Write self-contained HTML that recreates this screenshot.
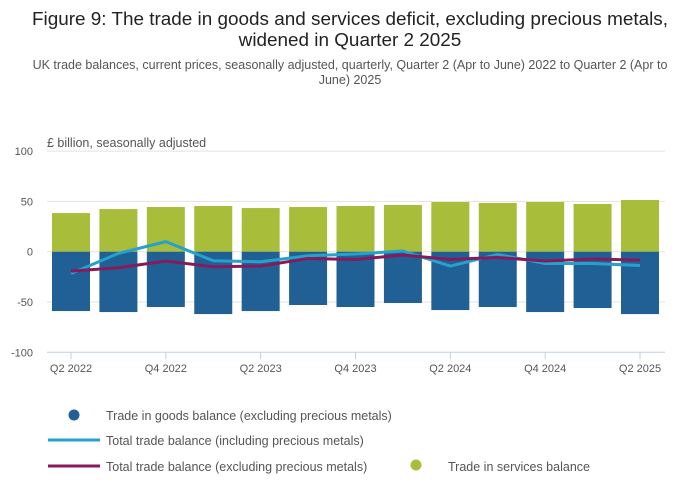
<!DOCTYPE html>
<html><head><meta charset="utf-8"><style>
body{margin:0;background:#fff;font-family:"Liberation Sans",sans-serif;}
#wrap{position:relative;width:700px;height:502px;overflow:hidden;}
</style></head><body>
<div id="wrap">
<svg id="svg" width="700" height="502" xmlns="http://www.w3.org/2000/svg">
<text x="350" y="25" text-anchor="middle" font-size="18.9" fill="#222">Figure 9: The trade in goods and services deficit, excluding precious metals,</text>
<text x="350" y="46" text-anchor="middle" font-size="18.9" fill="#222">widened in Quarter 2 2025</text>
<text x="350" y="69" text-anchor="middle" font-size="12.5" fill="#555">UK trade balances, current prices, seasonally adjusted, quarterly, Quarter 2 (Apr to June) 2022 to Quarter 2 (Apr to</text>
<text x="350" y="84" text-anchor="middle" font-size="12.5" fill="#555">June) 2025</text>
<text x="47" y="147" font-size="12.5" fill="#555">£ billion, seasonally adjusted</text>
<g id="grid"></g><g id="bars"></g><g id="lines"></g><g id="axes"></g>
<g>
<circle cx="74" cy="415" r="5.5" fill="#206095"/>
<text x="106" y="420" font-size="12.5" fill="#555">Trade in goods balance (excluding precious metals)</text>
<line x1="48" y1="440" x2="100" y2="440" stroke="#27a0cc" stroke-width="3"/>
<text x="106" y="445" font-size="12.5" fill="#555">Total trade balance (including precious metals)</text>
<line x1="48" y1="466" x2="100" y2="466" stroke="#871a5b" stroke-width="3"/>
<text x="106" y="471" font-size="12.5" fill="#555">Total trade balance (excluding precious metals)</text>
<circle cx="416" cy="465" r="5.5" fill="#a8bd3a"/>
<text x="448" y="471" font-size="12.5" fill="#555">Trade in services balance</text>
</g>
</svg></div>
<script>
const categories=["Q2 2022","Q3 2022","Q4 2022","Q1 2023","Q2 2023","Q3 2023","Q4 2023","Q1 2024","Q2 2024","Q3 2024","Q4 2024","Q1 2025","Q2 2025"];
const servicesValues=[38.4,42.4,44.4,45.4,43.4,44.4,45.4,46.4,49.4,48.4,49.4,47.4,51.4];
const goodsValues=[-59,-60,-55,-62,-59,-53,-55,-51,-58,-55,-60,-56,-62];
const totalInclValues=[-21.7,-1.7,10,-9,-10,-4,-2.3,0.7,-14.3,-2.7,-11.7,-11.7,-13.7];
const totalExclValues=[-19.3,-16,-9.3,-15,-14.3,-6.7,-7.7,-3.3,-7.7,-5.7,-9.3,-7.3,-8.3];
const yTicks=[100,50,0,-50,-100];
const xTickLabels=["Q2 2022","Q4 2022","Q2 2023","Q4 2023","Q2 2024","Q4 2024","Q2 2025"];
const NS="http://www.w3.org/2000/svg";
const plotL=47,plotR=665,y0=251.7,pxPer=1.006;
const step=(640-71)/(categories.length-1);
function xS(i){return 71+i*step;}
function yS(v){return y0-v*pxPer;}
function mk(tag,attrs,parent){const e=document.createElementNS(NS,tag);for(const k in attrs)e.setAttribute(k,attrs[k]);parent.appendChild(e);return e;}
const grid=document.getElementById('grid'),bars=document.getElementById('bars'),lines=document.getElementById('lines'),axes=document.getElementById('axes');
yTicks.forEach(t=>{
 if(t!==-100){const g=mk('line',{x1:plotL,x2:plotR,y1:yS(t),y2:yS(t),stroke:'#e2e2e2','stroke-width':1},grid);
 
 }
 const l=mk('text',{x:33,y:yS(t)+4,'text-anchor':'end','font-size':11,fill:'#555'},axes);
 l.textContent=t;
 
 
});
const ax=mk('line',{x1:plotL,x2:plotR,y1:yS(-100),y2:yS(-100),stroke:'#bfcfe0','stroke-width':1},axes);


categories.forEach((c,i)=>{
 const bw=38,x=xS(i)-bw/2;
 const s=mk('rect',{x:x,y:yS(servicesValues[i]),width:bw,height:yS(0)-yS(servicesValues[i]),fill:'#a8bd3a'},bars);
 
 
 const g=mk('rect',{x:x,y:yS(0),width:bw,height:yS(goodsValues[i])-yS(0),fill:'#206095'},bars);
 
 
 const li=xTickLabels.indexOf(c);
 if(li>=0){
  const tk=mk('line',{x1:xS(i),x2:xS(i),y1:yS(-100),y2:yS(-100)+7,stroke:'#bfcfe0'},axes);
  
  
  const tl=mk('text',{x:xS(i),y:372,'text-anchor':'middle','font-size':11,fill:'#555'},axes);
  tl.textContent=c;
  
  
 }
});
function drawLine(vals,color,name){
 const p=mk('polyline',{points:vals.map((v,i)=>xS(i)+','+yS(v)).join(' '),fill:'none',stroke:color,'stroke-width':3,'stroke-linejoin':'round'},lines);
 
 
}
drawLine(totalInclValues,'#27a0cc','line-total-incl-precious');
drawLine(totalExclValues,'#871a5b','line-total-excl-precious');
</script>
</body></html>
